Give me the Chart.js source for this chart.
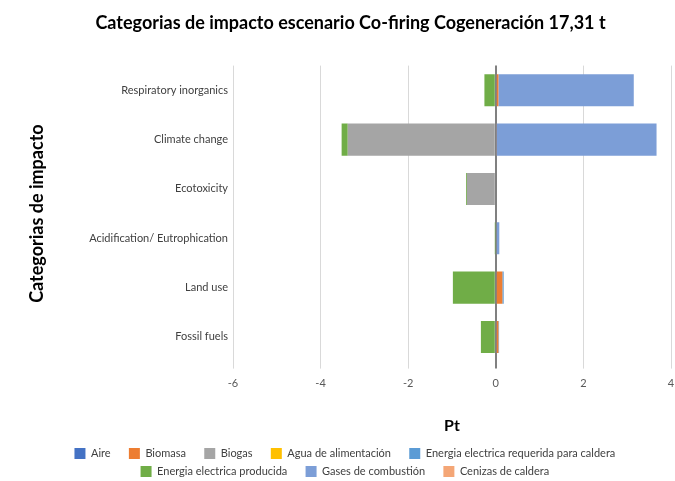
<!DOCTYPE html>
<html>
<head>
<meta charset="utf-8">
<script src="https://cdn.jsdelivr.net/npm/chart.js@4.4.1/dist/chart.umd.min.js"></script>
<style>
  body { margin: 0; background: #fff; }
  #wrap { width: 675px; height: 481px; }
</style>
</head>
<body>
<div id="wrap"><canvas id="myChart"></canvas></div>
<script>
// categorias (de arriba a abajo)
const categorias = ['Respiratory inorganics', 'Climate change', 'Ecotoxicity',
  'Acidification/ Eutrophication', 'Land use', 'Fossil fuels'];

// valores por serie (Pt)
const aire              = [0, 0, 0, 0, 0, 0];
const biomasa           = [0.06, 0.02, 0, 0, 0.15, 0.06];
const biogas            = [0, -3.38, -0.66, 0, 0, 0];
const aguaAlimentacion  = [0, 0, 0, 0, 0, 0];
const energiaRequerida  = [0, 0, 0, 0, 0.03, 0.015];
const energiaProducida  = [-0.26, -0.14, -0.02, -0.01, -0.98, -0.34];
const gasesCombustion   = [3.09, 3.65, 0, 0.08, 0, 0];
const cenizasCaldera    = [0, 0, 0, 0, 0, 0];

const xTicks = [-6, -4, -2, 0, 2, 4];

const font = "Lato, 'Open Sans', sans-serif";

function serie(label, data, color) {
  return { label: label, data: data, backgroundColor: color, borderWidth: 0,
           barPercentage: 0.65, categoryPercentage: 1 };
}

// legend: 5 items then 3, like the original
const legendRows = {
  id: 'legendRows',
  afterInit(chart) {
    const lg = chart.legend;
    const orig = lg.update.bind(lg);
    lg.update = (w, h, m) => {
      orig(Math.min(w, 640), h, m);
      lg.height -= 6;
    };
  }
};

const ctx = document.getElementById('myChart');
new Chart(ctx, {
  type: 'bar',
  data: {
    labels: categorias,
    datasets: [
      serie('Aire', aire, '#4472C4'),
      serie('Biomasa', biomasa, '#ED7D31'),
      serie('Biogas', biogas, '#A5A5A5'),
      serie('Agua de alimentación', aguaAlimentacion, '#FFC000'),
      serie('Energia electrica requerida para caldera', energiaRequerida, '#5B9BD5'),
      serie('Energia electrica producida', energiaProducida, '#70AD47'),
      serie('Gases de combustión', gasesCombustion, '#7C9ED7'),
      serie('Cenizas de caldera', cenizasCaldera, '#F4A676')
    ]
  },
  plugins: [legendRows],
  options: {
    indexAxis: 'y',
    responsive: true,
    maintainAspectRatio: false,
    animation: false,
    layout: { padding: { top: 12, right: 0, left: 26, bottom: 0 } },
    plugins: {
      title: {
        display: true,
        text: 'Categorias de impacto escenario Co-firing Cogeneración 17,31 t',
        color: '#000',
        font: { family: font, size: 18, weight: 'bold' },
        padding: { top: 0, bottom: 32 }
      },
      legend: {
        position: 'bottom',
        labels: {
          color: '#404040',
          font: { family: font, size: 11 },
          boxWidth: 11, boxHeight: 11, padding: 7,
          generateLabels: (chart) => Chart.defaults.plugins.legend.labels.generateLabels(chart)
            .map(item => Object.assign(item, { text: item.text + '    ' }))
        }
      },
      tooltip: { enabled: false }
    },
    scales: {
      x: {
        stacked: true,
        min: -6, max: 4,
        afterBuildTicks: (scale) => { scale.ticks = xTicks.map(v => ({ value: v })); },
        afterFit: (scale) => { scale.paddingRight = 4; },
        ticks: { color: '#595959', font: { family: font, size: 11 }, padding: 8 },
        grid: {
          color: (c) => c.tick && c.tick.value === 0 ? '#808080' : '#d9d9d9',
          lineWidth: (c) => c.tick && c.tick.value === 0 ? 2 : 1,
          tickLength: 7
        },
        border: { display: false },
        title: {
          display: true, text: 'Pt', color: '#000',
          font: { family: font, size: 16, weight: 'bold' },
          padding: { top: 18, bottom: 6 }
        }
      },
      y: {
        stacked: true,
        afterFit: (scale) => { scale.width = 207; },
        ticks: { color: '#404040', font: { family: font, size: 11 }, padding: 5 },
        grid: { display: false, drawTicks: false },
        border: { display: false },
        title: {
          display: true, text: 'Categorias de impacto', color: '#000',
          font: { family: font, size: 18, weight: 'bold' },
          padding: 0
        }
      }
    }
  }
});
</script>
</body>
</html>
